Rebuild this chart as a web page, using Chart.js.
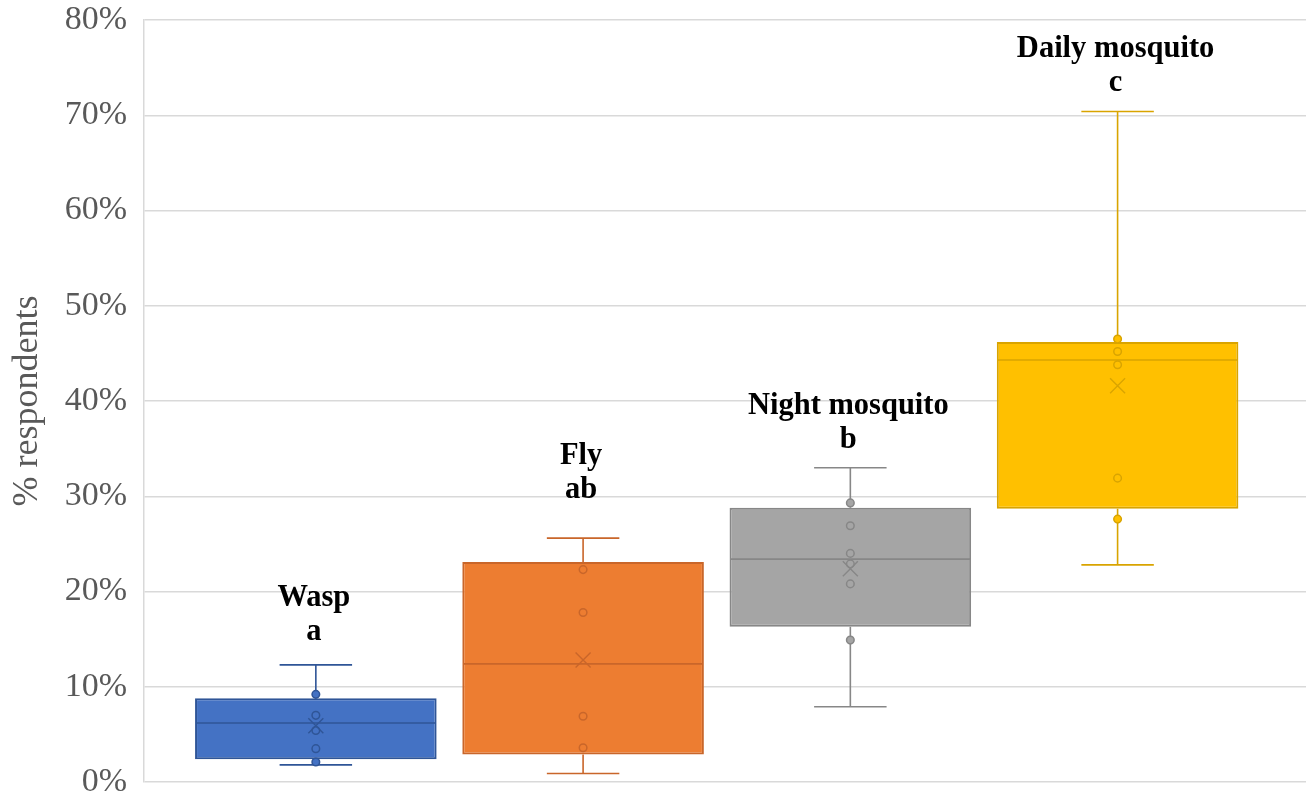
<!DOCTYPE html>
<html>
<head>
<meta charset="utf-8">
<script src="https://cdn.jsdelivr.net/npm/chart.js@4.4.0/dist/chart.umd.min.js"></script>
<style>
  html, body { margin: 0; padding: 0; background: #ffffff; }
  #wrap { width: 1310px; height: 799px; }
</style>
</head>
<body>
<div id="wrap"><canvas id="boxChart" width="1310" height="799"></canvas></div>
<script>
// groups and their significance letters
const groups = ['Wasp', 'Fly', 'Night mosquito', 'Daily mosquito'];
const letters = ['a', 'ab', 'b', 'c'];
const positions = [1, 2, 3, 4];

// box statistics (share of respondents)
const whiskerLow  = [0.018, 0.009, 0.079, 0.228];
const quart1      = [0.024, 0.029, 0.163, 0.287];
const medians     = [0.062, 0.124, 0.234, 0.443];
const quart3      = [0.088, 0.231, 0.288, 0.462];
const whiskerHigh = [0.123, 0.256, 0.330, 0.704];
const means       = [0.059, 0.128, 0.224, 0.416];

// inner points
const pointsWasp  = [0.092, 0.070, 0.054, 0.035, 0.021];
const pointsFly   = [0.223, 0.178, 0.069, 0.036];
const pointsNight = [0.293, 0.269, 0.240, 0.229, 0.208, 0.149];
const pointsDaily = [0.465, 0.452, 0.438, 0.319, 0.276];
const innerPoints = [pointsWasp, pointsFly, pointsNight, pointsDaily];

// value where the letter line of each label sits
const letterAt = [0.149, 0.298, 0.351, 0.725];

// y axis ticks
const yTicks = [0, 0.1, 0.2, 0.3, 0.4, 0.5, 0.6, 0.7, 0.8];

const fills   = ['#4472C4', '#ED7D31', '#A5A5A5', '#FFC000'];
const strokes = ['#2F5597', '#C9662A', '#878787', '#D9A400'];

// boxes are floating bars from Q1 to Q3
const boxData = groups.map((g, i) => ({ x: positions[i], y: [quart1[i], quart3[i]] }));

// whiskers, median, mean, points and the labels on top
const boxExtras = {
    id: 'boxExtras',
    afterDatasetsDraw(chart) {
        const ctx = chart.ctx;
        const yScale = chart.scales.y;
        const bars = chart.getDatasetMeta(0).data;
        ctx.save();
        bars.forEach((bar, i) => {
            const cx = bar.x;
            const half = bar.width / 2;
            const cap = bar.width * 0.15;
            const yMin = yScale.getPixelForValue(whiskerLow[i]);
            const yQ1 = yScale.getPixelForValue(quart1[i]);
            const yQ3 = yScale.getPixelForValue(quart3[i]);
            const yMax = yScale.getPixelForValue(whiskerHigh[i]);
            const yMed = yScale.getPixelForValue(medians[i]);
            const yMean = yScale.getPixelForValue(means[i]);

            ctx.strokeStyle = strokes[i];
            ctx.lineWidth = 1.6;

            // whiskers + caps
            ctx.beginPath();
            ctx.moveTo(cx, yQ3); ctx.lineTo(cx, yMax);
            ctx.moveTo(cx - cap, yMax); ctx.lineTo(cx + cap, yMax);
            ctx.moveTo(cx, yQ1); ctx.lineTo(cx, yMin);
            ctx.moveTo(cx - cap, yMin); ctx.lineTo(cx + cap, yMin);
            // median
            ctx.moveTo(cx - half + 1, yMed); ctx.lineTo(cx + half - 1, yMed);
            ctx.stroke();

            // inner points
            innerPoints[i].forEach(v => {
                const py = yScale.getPixelForValue(v);
                ctx.beginPath();
                ctx.arc(cx, py, 3.8, 0, Math.PI * 2);
                ctx.fillStyle = fills[i];
                ctx.fill();
                ctx.lineWidth = 1.5;
                ctx.stroke();
            });

            // mean marker
            ctx.lineWidth = 1.4;
            ctx.beginPath();
            ctx.moveTo(cx - 7.5, yMean - 7.5); ctx.lineTo(cx + 7.5, yMean + 7.5);
            ctx.moveTo(cx + 7.5, yMean - 7.5); ctx.lineTo(cx - 7.5, yMean + 7.5);
            ctx.stroke();

            // label: name on top, letter below
            const yLetter = yScale.getPixelForValue(letterAt[i]);
            ctx.fillStyle = '#000000';
            ctx.font = 'bold 30.5px "Liberation Serif", "Times New Roman", serif';
            ctx.textAlign = 'center';
            ctx.textBaseline = 'alphabetic';
            ctx.fillText(groups[i], cx - 2, yLetter - 34);
            ctx.fillText(letters[i], cx - 2, yLetter);
        });
        ctx.restore();
    }
};

const ctx = document.getElementById('boxChart').getContext('2d');
const boxChart = new Chart(ctx, {
    type: 'bar',
    data: {
        datasets: [{
            label: 'boxes',
            data: boxData,
            backgroundColor: fills,
            borderColor: strokes,
            borderWidth: 2,
            borderSkipped: false,
            barPercentage: 0.904,
            categoryPercentage: 1
        }]
    },
    options: {
        responsive: false,
        animation: false,
        layout: { padding: { top: 20, right: 4, bottom: 17, left: 0 } },
        plugins: {
            legend: { display: false },
            tooltip: { enabled: false }
        },
        scales: {
            x: {
                type: 'linear',
                display: false,
                offset: false,
                min: 0.357,
                max: 4.705,
                afterBuildTicks(scale) { scale.ticks = positions.map(v => ({ value: v })); }
            },
            y: {
                min: 0,
                max: 0.8,
                afterFit(scale) {
                    scale.width = 144;
                    scale.paddingTop = 0;
                    scale.paddingBottom = 0;
                },
                afterBuildTicks(scale) { scale.ticks = yTicks.map(v => ({ value: v })); },
                border: { display: true, color: '#D9D9D9', width: 1.5 },
                grid: { color: '#D9D9D9', lineWidth: 1.5, drawTicks: false },
                ticks: {
                    padding: 17,
                    color: '#595959',
                    font: { family: '"Liberation Serif", "Times New Roman", serif', size: 34 },
                    callback: v => Math.round(v * 100) + '%'
                },
                title: {
                    display: true,
                    text: '% respondents',
                    color: '#595959',
                    padding: { top: 6, bottom: 0 },
                    font: { family: '"Liberation Serif", "Times New Roman", serif', size: 36 }
                }
            }
        }
    },
    plugins: [boxExtras]
});
</script>
</body>
</html>
